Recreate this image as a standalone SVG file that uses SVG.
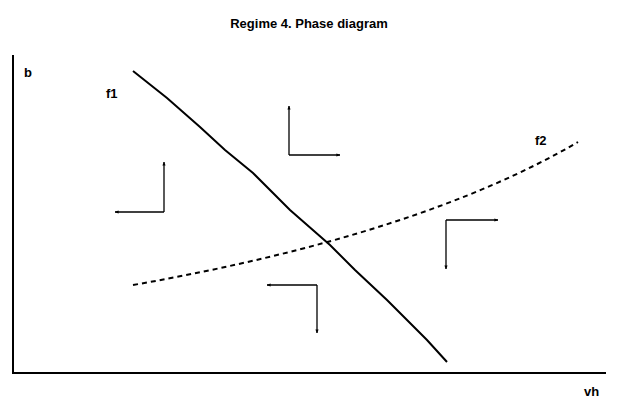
<svg xmlns="http://www.w3.org/2000/svg" width="617" height="401" viewBox="0 0 617 401">
<style>
text{font-family:"Liberation Sans",Arial,sans-serif;font-weight:bold;font-size:13px;fill:#000}
.axis{stroke:#000;stroke-width:2;fill:none}
.curve{stroke:#000;stroke-width:2;fill:none}
.dash{stroke:#000;stroke-width:2;fill:none;stroke-dasharray:5 4}
.arr{stroke:#000;stroke-width:1.3;fill:none;marker-end:url(#ah)}
</style>
<defs>
<marker id="ah" viewBox="0 0 10 10" refX="9" refY="5" markerWidth="4" markerHeight="4" orient="auto" markerUnits="userSpaceOnUse">
<path d="M0,1 L10,5 L0,9 Z" fill="#000"/>
</marker>
</defs>
<rect width="617" height="401" fill="#fff"/>
<text x="309" y="28" text-anchor="middle">Regime 4. Phase diagram</text>
<g id="axes">
<line class="axis" x1="13" y1="55" x2="13" y2="374"/>
<line class="axis" x1="12" y1="373" x2="606" y2="373"/>
<text x="24" y="77">b</text>
<text x="584" y="396">vh</text>
</g>
<g id="f1">
<polyline class="curve" points="133,71 167,98 200,127 225,150 253,173 290,210 330,245 355,270 387,300 427,340 447,362"/>
<text x="106" y="98">f1</text>
</g>
<g id="f2">
<path class="dash" d="M133,285 Q420,234.5 578,142"/>
<text x="535" y="145">f2</text>
</g>
<g id="connectors">
<path class="arr" d="M164,212 L164,162"/>
<path class="arr" d="M164,212 L115,212"/>
<path class="arr" d="M289,155 L289,106"/>
<path class="arr" d="M289,155 L340,155"/>
<path class="arr" d="M446,220 L498,220"/>
<path class="arr" d="M446,220 L446,269"/>
<path class="arr" d="M317,285 L267,285"/>
<path class="arr" d="M317,285 L317,333"/>
</g>
</svg>
